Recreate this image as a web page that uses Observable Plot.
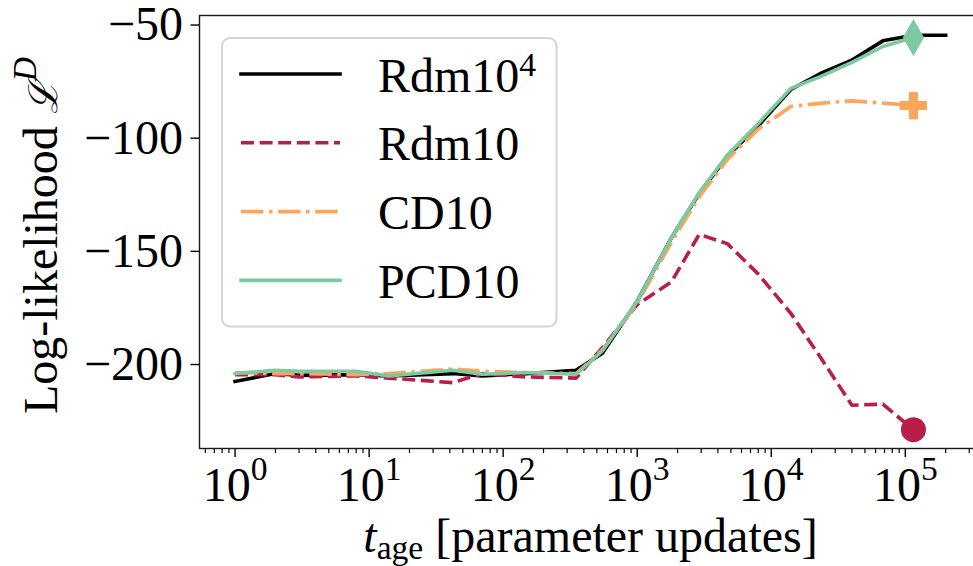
<!DOCTYPE html>
<html>
<head>
<meta charset="utf-8">
<script src="https://cdn.jsdelivr.net/npm/d3@7"></script>
<script src="https://cdn.jsdelivr.net/npm/@observablehq/plot@0.6"></script>
<style>
  html, body { margin: 0; padding: 0; background: #fff; overflow: hidden; }
  #chart svg { display: block; overflow: hidden; }
</style>
</head>
<body>
<div id="chart"></div>
<script>
// Training time (parameter updates) at which each model was evaluated
const updates = [1, 2, 3, 8, 14, 42, 70, 150, 350, 550, 1000, 1800, 2900, 4700, 8000, 14000, 24000, 40000, 68000, 115000];
const updatesRdm1e4 = [1, 2, 3, 8, 14, 42, 70, 150, 350, 550, 1000, 1800, 2900, 4700, 8000, 14000, 24000, 40000, 68000, 115000, 200000];

// Log-likelihood of the data under each model
const rdm1e4 = [-207.5, -204, -204.8, -204.5, -205, -204, -205, -204, -202.5, -195, -172, -144, -124.5, -108, -94.5, -78.5, -71, -65.5, -57, -54.5, -54.5];
const rdm10  = [-204.5, -204.5, -205.5, -205, -206, -208, -204, -205.5, -206, -192.5, -173.5, -163.5, -142.5, -146.6, -160, -177.4, -198, -218, -217.5, -228.8];
const cd10   = [-203.5, -204, -204, -204.5, -204, -202, -203, -203.5, -204, -193.5, -173, -146, -126, -109.5, -96, -86, -84.5, -83.5, -84.5, -85.6];
const pcd10  = [-204, -202.5, -203, -203, -205, -202.5, -204.3, -203.5, -204.3, -194, -172, -144, -124, -107.5, -93.5, -78, -72.5, -66.5, -59.5, -55.5];

// Legend entries: base text and superscript
const legendNames = ["Rdm10", "Rdm10", "CD10", "PCD10"];
const legendSups  = ["4", "", "", ""];

// Axis ticks
const yTicks = [-50, -100, -150, -200];
const xMajorExponents = [0, 1, 2, 3, 4, 5];

const colors = { rdm1e4: "#000000", rdm10: "#b91e4b", cd10: "#fda55a", pcd10: "#7dcaa0" };
const dashes = { rdm1e4: null, rdm10: "13,5.6", cd10: "22.4,5.6,3.5,5.6", pcd10: null };
const LW = 3.6;

const W = 973, H = 566;
const FONT = "'Liberation Serif', 'Times New Roman', serif";
const xDomain = [10 ** -0.2655, 10 ** 5.576];

const xMajor = xMajorExponents.map(e => 10 ** e);
const xMinor = [];
for (let e = -1; e <= 5; e++) for (let m = 2; m <= 9; m++) {
  const v = m * 10 ** e;
  if (v >= xDomain[0] && v <= xDomain[1]) xMinor.push(v);
}

const rows = (ts, vs) => ts.map((t, i) => ({ t, v: vs[i] }));
const last = (ts, vs) => [{ t: ts[vs.length - 1], v: vs[vs.length - 1] }];

const lineOpts = (key) => ({
  x: "t", y: "v", stroke: colors[key], strokeWidth: LW,
  strokeDasharray: dashes[key], strokeLinecap: dashes[key] ? "butt" : "square", strokeLinejoin: "round"
});

const plot = Plot.plot({
  width: W, height: H,
  marginLeft: 199, marginRight: -9, marginTop: 15, marginBottom: 118,
  style: { fontFamily: FONT, fontSize: "48px", color: "#000", background: "#fff", overflow: "hidden" },
  x: { type: "log", domain: xDomain },
  y: { domain: [-237.1, -45.8] },
  marks: [
    Plot.axisY({ ticks: yTicks, tickSize: 8.5, tickPadding: 8, strokeWidth: 1.4,
                 tickFormat: d => "\u2212" + Math.abs(d), label: null }),
    Plot.axisX({ ticks: xMinor, tickSize: 5, strokeWidth: 1.2, tickFormat: () => "", label: null }),
    Plot.axisX({ ticks: xMajor, tickSize: 9, tickPadding: 9, strokeWidth: 1.4,
                 tickFormat: d => String(Math.round(Math.log10(d))), label: null }),
    Plot.line(rows(updatesRdm1e4, rdm1e4), lineOpts("rdm1e4")),
    Plot.line(rows(updates, rdm10), lineOpts("rdm10")),
    Plot.line(rows(updates, cd10), lineOpts("cd10")),
    Plot.line(rows(updates, pcd10), lineOpts("pcd10")),
    Plot.dot(last(updates, rdm10), { x: "t", y: "v", symbol: "circle", r: 12.5, fill: colors.rdm10, stroke: "none" }),
    Plot.dot(last(updates, cd10), { x: "t", y: "v", symbol: "cross", r: 11.4, fill: colors.cd10, stroke: "none" }),
    Plot.dot(last(updates, pcd10), { x: "t", y: "v", symbol: "diamond", r: 11.2, fill: colors.pcd10, stroke: "none" }),
    Plot.frame({ stroke: "#1a1a1a", strokeWidth: 1.4 })
  ]
});

document.getElementById("chart").appendChild(plot);
const svg = d3.select(plot);

// Powers of ten on the x axis: "10" with the exponent raised
svg.selectAll('g[aria-label="x-axis tick label"] text').each(function () {
  const t = d3.select(this);
  const exp = t.text();
  if (exp === "") return;
  t.text("10");
  t.append("tspan").attr("dy", -21).attr("font-size", "33.6px").text(exp);
});

// Axis titles
const frameLeft = 199, frameTop = 15, frameBottom = H - 118, frameRight = W + 9;
svg.append("text")
  .attr("transform", `translate(57,${(frameTop + frameBottom) / 2 + 4}) rotate(-90)`)
  .attr("text-anchor", "middle").attr("font-family", FONT).attr("font-size", 48).attr("fill", "#000")
  .call(t => {
    t.append("tspan").text("Log-likelihood ");
    t.append("tspan").attr("font-style", "italic").attr("font-family", "'DejaVu Serif', serif").attr("font-size", 40).text("\u2112");
    t.append("tspan").attr("font-style", "italic").attr("font-size", 33.6).attr("dy", -21).text("D");
  });

svg.append("text")
  .attr("x", (frameLeft + frameRight) / 2).attr("y", 552)
  .attr("text-anchor", "middle").attr("font-family", FONT).attr("font-size", 48).attr("fill", "#000")
  .call(t => {
    t.append("tspan").attr("font-style", "italic").text("t");
    t.append("tspan").attr("font-size", 33.6).attr("dy", 7).text("age");
    t.append("tspan").attr("dy", -7).text(" [parameter updates]");
  });

// Legend box in the upper-left corner of the axes
const keys = ["rdm1e4", "rdm10", "cd10", "pcd10"];
const lg = svg.append("g").attr("transform", `translate(${frameLeft + 23},${frameTop + 23})`);
lg.append("rect").attr("width", 334.5).attr("height", 288.5).attr("rx", 8)
  .attr("fill", "#fff").attr("fill-opacity", 0.8).attr("stroke", "#d4d4d4").attr("stroke-width", 2);
keys.forEach((k, i) => {
  const y = 36 + i * 68.8;
  lg.append("line").attr("x1", 19).attr("x2", 118).attr("y1", y).attr("y2", y)
    .attr("stroke", colors[k]).attr("stroke-width", LW)
    .attr("stroke-dasharray", dashes[k]).attr("stroke-linecap", dashes[k] ? "butt" : "square");
  const tx = lg.append("text").attr("x", 156).attr("y", y + 17.5).attr("text-anchor", "start")
    .attr("font-family", FONT).attr("font-size", 48).attr("fill", "#000").text(legendNames[i]);
  if (legendSups[i]) tx.append("tspan").attr("dy", -16).attr("font-size", 33.6).text(legendSups[i]);
});
</script>
</body>
</html>
